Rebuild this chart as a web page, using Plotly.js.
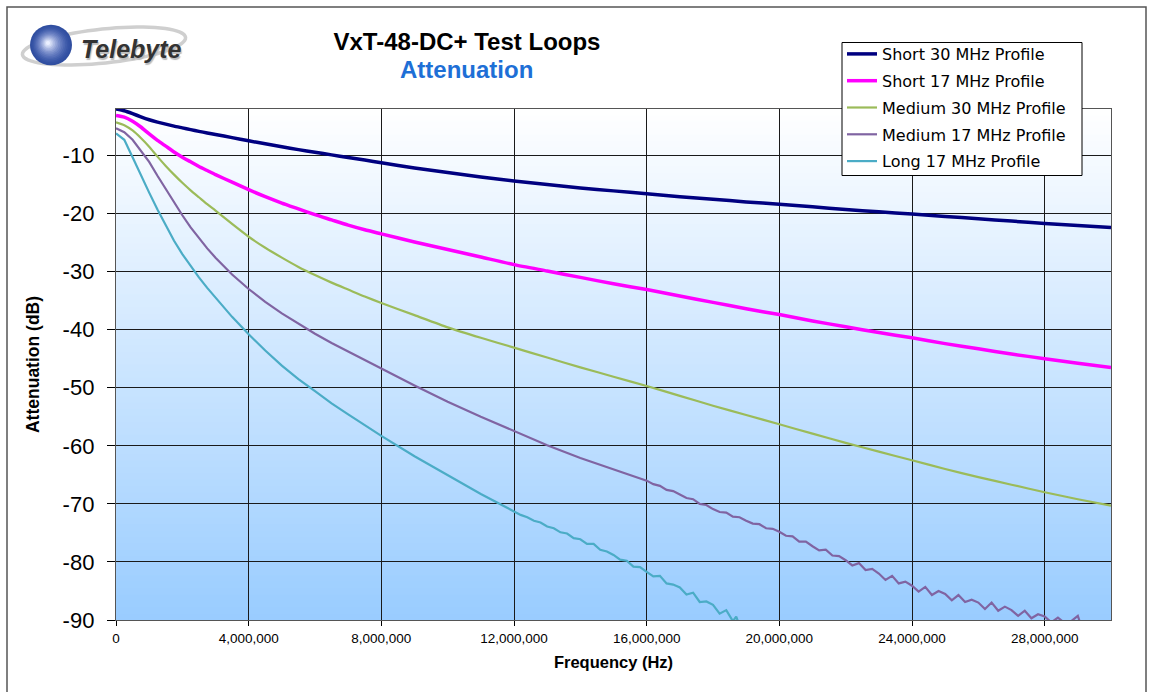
<!DOCTYPE html>
<html><head><meta charset="utf-8">
<script src="https://cdn.plot.ly/plotly-3.0.1.min.js"></script>
<style>html,body{margin:0;padding:0;background:#fff}#chart{width:1153px;height:692px}</style>
</head><body><div id="chart"></div>
<script>
// ---- data (frequencies in MHz, attenuation in dB) ----
const seriesNames = ["Short 30 MHz Profile","Short 17 MHz Profile","Medium 30 MHz Profile","Medium 17 MHz Profile","Long 17 MHz Profile"];
const freqSmoothMHz = [0,0.25,0.5,0.75,1,1.25,1.5,1.75,2,2.25,2.5,2.75,3,3.5,4,4.5,5,5.5,6,6.5,7,7.5,8,
  9,10,11,12,13,14,15,16,17,18,19,20,21,22,23,24,25,26,27,28,29,30];
const short30 = [-2.0,-2.3,-2.8,-3.35,-3.85,-4.25,-4.6,-4.95,-5.25,-5.55,-5.85,-6.12,-6.38,-6.93,-7.48,-8.0,-8.5,-9.0,-9.45,-9.9,-10.35,-10.8,-11.25,
  -12.15,-12.95,-13.7,-14.4,-15.0,-15.6,-16.1,-16.6,-17.1,-17.55,-18.0,-18.4,-18.85,-19.3,-19.7,-20.1,-20.5,-20.9,-21.3,-21.7,-22.05,-22.4];
const short17 = [-3.1,-3.4,-4.1,-5.1,-6.3,-7.4,-8.4,-9.4,-10.3,-11.1,-11.9,-12.6,-13.3,-14.6,-15.9,-17.1,-18.2,-19.2,-20.2,-21.1,-22.0,-22.8,-23.5,
  -24.9,-26.2,-27.5,-28.8,-29.9,-31.0,-32.1,-33.1,-34.2,-35.3,-36.4,-37.4,-38.5,-39.5,-40.5,-41.4,-42.4,-43.3,-44.2,-45.0,-45.8,-46.5];
const medium30 = [-4.3,-4.8,-5.7,-7.0,-8.5,-10.2,-11.8,-13.3,-14.7,-16.0,-17.2,-18.4,-19.5,-21.8,-24.0,-25.9,-27.6,-29.2,-30.6,-31.9,-33.1,-34.3,-35.4,
  -37.5,-39.6,-41.4,-43.1,-44.8,-46.5,-48.1,-49.7,-51.4,-53.1,-54.7,-56.3,-57.9,-59.5,-61.0,-62.5,-64.0,-65.4,-66.7,-68.0,-69.2,-70.3];

const freqMedium17MHz = [0,0.25,0.5,0.75,1,1.25,1.5,1.75,2,2.25,2.5,2.75,3,3.5,4,4.5,5,5.5,6,6.5,7,7.5,8,
  9,10,11,12,13,14,15,16,
  16.2,16.4,16.6,16.8,17.0,17.2,17.4,17.6,17.8,18.0,18.2,18.4,18.6,18.8,19.0,19.2,19.4,19.6,19.8,20.0,
  20.2,20.4,20.6,20.8,21.0,21.2,21.4,21.6,21.8,22.0,22.2,22.4,22.6,22.8,23.0,23.2,23.4,23.6,23.8,24.0,
  24.2,24.4,24.6,24.8,25.0,25.2,25.4,25.6,25.8,26.0,26.2,26.4,26.6,26.8,27.0,27.2,27.4,27.6,27.8,28.0,
  28.2,28.4,28.6,28.8,29.0,29.1];
const medium17 = [-5.3,-6.0,-7.3,-9.1,-11.1,-13.5,-15.8,-18.1,-20.3,-22.4,-24.3,-26.0,-27.6,-30.5,-33.0,-35.2,-37.2,-39.0,-40.7,-42.3,-43.8,-45.3,-46.7,
  -49.6,-52.4,-55.0,-57.5,-59.9,-62.1,-64.1,-66.0,
  -66.6,-66.9,-67.6,-67.8,-68.4,-69.0,-69.2,-70.0,-70.2,-70.9,-71.4,-71.5,-72.2,-72.3,-72.9,-73.4,-73.5,-74.2,-74.3,-74.8,
  -75.5,-75.6,-76.5,-76.5,-77.3,-78.0,-77.9,-78.9,-79.0,-79.7,-80.6,-80.2,-81.4,-81.2,-82.0,-83.1,-82.4,-83.7,-83.4,-84.1,
  -85.1,-84.3,-85.7,-85.0,-85.5,-86.6,-85.7,-86.9,-86.5,-87.0,-88.1,-87.0,-88.4,-87.7,-88.3,-89.3,-88.4,-89.7,-89.0,-89.4,
  -90.4,-89.6,-90.5,-90.2,-89.3,-91.0];

const freqLong17MHz = [0,0.25,0.5,0.75,1,1.25,1.5,1.75,2,2.25,2.5,2.75,3,3.5,4,4.5,5,5.5,6,6.5,7,7.5,8,
  9,10,11,12,
  12.2,12.4,12.6,12.8,13.0,13.2,13.4,13.6,13.8,14.0,14.2,14.4,14.6,14.8,15.0,15.2,15.4,15.6,15.8,16.0,
  16.2,16.4,16.6,16.8,17.0,17.2,17.4,17.6,17.8,18.0,18.2,18.4,18.6,18.7,18.8];
const long17 = [-6.2,-7.3,-10.3,-13.5,-16.4,-19.3,-22.1,-24.7,-27.0,-29.1,-31.0,-32.8,-34.5,-37.8,-40.8,-43.6,-46.2,-48.5,-50.6,-52.7,-54.6,-56.5,-58.3,
  -61.8,-65.1,-68.3,-71.3,
  -71.9,-72.3,-72.9,-73.2,-73.9,-74.2,-74.9,-75.1,-75.9,-76.1,-76.9,-76.9,-77.9,-78.2,-78.8,-79.6,-79.8,-80.8,-80.9,-81.7,
  -82.5,-82.4,-83.7,-83.9,-84.4,-85.6,-85.3,-86.9,-86.8,-87.4,-88.9,-88.3,-90.2,-89.4,-91.0];

const xTickValsMHz = [0,4,8,12,16,20,24,28];
const yTickVals = [-90,-80,-70,-60,-50,-40,-30,-20,-10];
const yTickText = ["-90","-80","-70","-60","-50","-40","-30","-20","-10"];

// ---- styling ----
const toHz = a => a.map(v => v * 1e6);
const colors = ["#000080","#FF00FF","#9BBB59","#8064A2","#4BACC6"];
const widths = [3.5,3.5,2.2,2.2,2.2];
const shapesLine = ['spline','spline','spline','linear','linear'];
const xs = [toHz(freqSmoothMHz),toHz(freqSmoothMHz),toHz(freqSmoothMHz),toHz(freqMedium17MHz),toHz(freqLong17MHz)];
const ys = [short30,short17,medium30,medium17,long17];

const traces = seriesNames.map((n,i)=>({
  type:'scatter', mode:'lines', name:n, x:xs[i], y:ys[i],
  line:{color:colors[i], width:widths[i], shape:shapesLine[i], smoothing:0.6},
  legendgroup:'g'+i, hoverinfo:'skip'
}));

// plot area in pixels
const L=116, R=1111, T=109, B=620, W=1153, H=692;
const px = p => (p-L)/(R-L);
const py = p => (B-p)/(B-T);

const shapes = [];
// vertical gradient background
const N = 80;
for (let i=0;i<N;i++){
  const t = (i+0.5)/N; // 0 bottom -> 1 top
  const r = Math.round(153 + (255-153)*t), g = Math.round(204 + (255-204)*t);
  shapes.push({type:'rect', xref:'paper', yref:'paper', x0:0, x1:1, y0:i/N, y1:(i+1)/N + 0.002,
    fillcolor:`rgb(${r},${g},255)`, line:{width:0}, layer:'below'});
}
// outer chart frame
shapes.push({type:'rect', xref:'paper', yref:'paper', x0:px(7), x1:px(1146), y0:py(720), y1:py(7),
  line:{color:'#555', width:1.5}, layer:'below'});
// legend box
shapes.push({type:'rect', xref:'paper', yref:'paper', x0:px(842), x1:px(1082), y0:py(175.5), y1:py(42.5),
  fillcolor:'#FFFFFF', line:{color:'#000', width:1}, layer:'above'});
// logo ring
(function(){
  const cx=104, cy=46, rx=82, ry=17, rot=-6*Math.PI/180;
  let d='';
  for(let k=0;k<=72;k++){
    const a=k/72*2*Math.PI;
    const ex=rx*Math.cos(a), ey=ry*Math.sin(a);
    const X=cx+ex*Math.cos(rot)-ey*Math.sin(rot), Y=cy+ex*Math.sin(rot)+ey*Math.cos(rot);
    d += (k?'L':'M') + px(X).toFixed(5) + ',' + py(Y).toFixed(5);
  }
  shapes.push({type:'path', xref:'paper', yref:'paper', path:d+'Z', line:{color:'#CFCFCF', width:3.5}});
})();
// logo sphere (layered discs)
const sphereSteps = 14;
for(let k=0;k<sphereSteps;k++){
  const f = k/(sphereSteps-1);
  const rr = 21*(1-f*0.9);
  const cxk = 51 - 3*f, cyk = 45 - 2*f;
  const r = Math.round(48 + (235-48)*Math.pow(f,1.6));
  const g = Math.round(78 + (240-78)*Math.pow(f,1.6));
  const b = Math.round(160 + (255-160)*Math.pow(f,1.4));
  shapes.push({type:'circle', xref:'paper', yref:'paper',
    x0:px(cxk-rr), x1:px(cxk+rr), y0:py(cyk+rr*0.97), y1:py(cyk-rr*0.97),
    fillcolor:`rgb(${r},${g},${b})`, line:{width:0}});
}

const FONT = "Liberation Sans, Arial, sans-serif";
const layout = {
  width:W, height:H,
  margin:{l:L, r:W-R, t:T, b:H-B, pad:0},
  paper_bgcolor:'#FFFFFF', plot_bgcolor:'rgba(0,0,0,0)',
  showlegend:true,
  title:{text:'<b>VxT-48-DC+ Test Loops</b>', x:px(467), xanchor:'center', xref:'paper',
    y:1-42/H, yanchor:'middle', yref:'container', font:{family:FONT, size:24, color:'#000'}},
  xaxis:{range:[0,30e6], tickvals:toHz(xTickValsMHz), tickformat:',d',
    ticks:'outside', ticklen:5, tickcolor:'#000', tickwidth:1,
    showgrid:true, gridcolor:'#1a1a1a', gridwidth:1, zeroline:false,
    showline:true, linecolor:'#555', linewidth:1.2, mirror:true,
    tickfont:{family:FONT, size:13.5, color:'#000'}, ticklabelstandoff:1,
    title:{text:'<b>Frequency (Hz)</b>', font:{family:FONT, size:16.5, color:'#000'}, standoff:11},
    fixedrange:true, automargin:false},
  yaxis:{range:[-90,-2], tickvals:yTickVals, ticktext:yTickText, tickmode:'array',
    ticks:'outside', ticklen:8, tickcolor:'#000', tickwidth:1,
    showgrid:true, gridcolor:'#1a1a1a', gridwidth:1, zeroline:false,
    showline:true, linecolor:'#555', linewidth:1.2, mirror:true,
    tickfont:{family:FONT, size:22, color:'#000'}, ticklabelstandoff:8,
    title:{text:'<b>Attenuation (dB)</b>', font:{family:FONT, size:17.5, color:'#000'}, standoff:18},
    fixedrange:true, automargin:false},
  legend:{x:px(842), y:py(37), xanchor:'left', yanchor:'top',
    bgcolor:'rgba(0,0,0,0)', borderwidth:0,
    font:{family:"DejaVu Sans, sans-serif", size:16, color:'#000'},
    traceorder:'grouped', tracegroupgap:3, itemwidth:30},
  shapes:shapes,
  annotations:[
    {text:'<b>Attenuation</b>', xref:'paper', yref:'paper', x:px(466), y:py(70), xanchor:'center', yanchor:'middle',
     showarrow:false, font:{family:FONT, size:24, color:'#1E6FD6'}},
    {text:'<b><i>Telebyte</i></b>', xref:'paper', yref:'paper', x:px(131), y:py(49), xanchor:'center', yanchor:'middle',
     showarrow:false, font:{family:FONT, size:25, color:'#333333', shadow:'1px 2px 1px #bbbbbb'}}
  ]
};
Plotly.newPlot('chart', traces, layout, {displayModeBar:false, staticPlot:true});
</script>
</body></html>
